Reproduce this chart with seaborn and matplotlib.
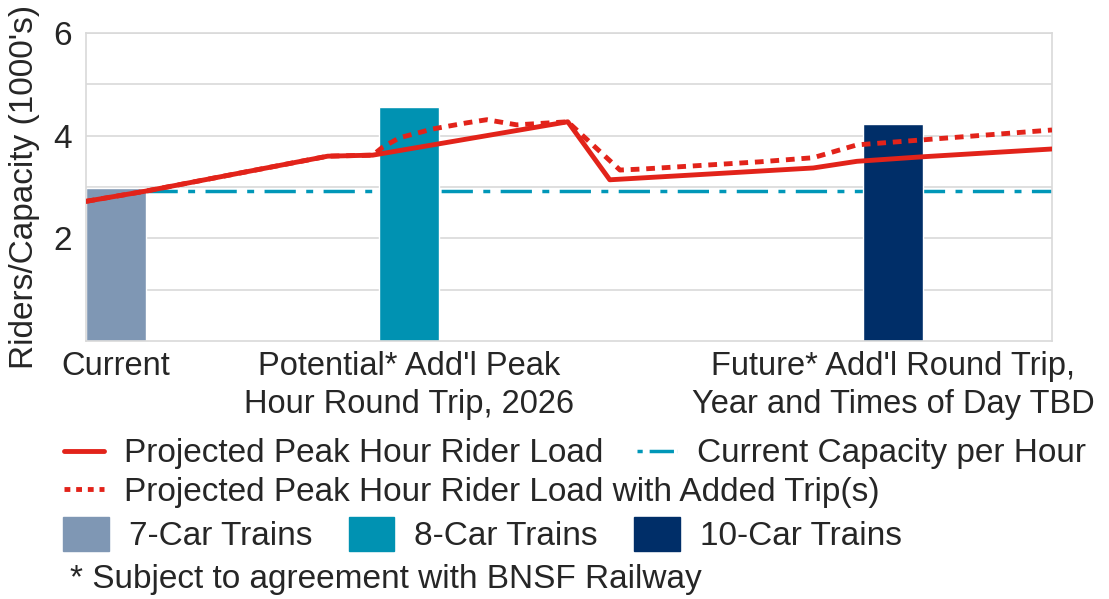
import numpy as np
import pandas as pd
import matplotlib
matplotlib.use("Agg")
import matplotlib.pyplot as plt
from matplotlib.lines import Line2D
from matplotlib.patches import Patch
import seaborn as sns

# x positions in arbitrary timeline units
load_x = [0.0, 1.0, 4.03, 4.78, 8.03, 8.73, 12.12, 12.85, 13.97, 16.1]
load_y = [2.72, 2.92, 3.60, 3.62, 4.27, 3.14, 3.37, 3.50, 3.59, 3.74]

added_x = [0.0, 1.0, 4.03, 4.78, 4.95, 5.23, 5.78, 6.35, 6.68, 7.18, 8.03,
           8.9, 9.28, 11.23, 12.12, 12.85, 13.97, 16.1]
added_y = [2.72, 2.92, 3.60, 3.62, 3.78, 3.96, 4.13, 4.25, 4.31, 4.21, 4.27,
           3.33, 3.35, 3.49, 3.57, 3.82, 3.92, 4.11]

capacity_x = [1.0, 16.1]
capacity_y = [2.92, 2.92]

bar_x = [0.5, 5.39, 13.45]
bar_h = [2.98, 4.56, 4.23]
bar_names = ["7-Car Trains", "8-Car Trains", "10-Car Trains"]
bar_colors = ["#7F97B4", "#0092B2", "#002E68"]

tick_labels = ["Current", "Potential* Add'l Peak\nHour Round Trip, 2026",
               "Future* Add'l Round Trip,\nYear and Times of Day TBD"]

red = "#E2231A"
teal = "#0097B8"

sns.set_theme(style="white")
plt.rcParams["font.family"] = ["Liberation Sans", "DejaVu Sans"]

fig = plt.figure(figsize=(11.09, 5.99), dpi=100)
ax = fig.add_axes([0.0775, 0.4307, 0.8711, 0.5143])

# capacity line sits behind the bars
sns.lineplot(x=capacity_x, y=capacity_y, ax=ax, color=teal, lw=2.5,
             linestyle=(0, (9, 3, 2, 3)), zorder=1)
ax.bar(bar_x, bar_h, width=1.0, color=bar_colors, zorder=2)
sns.lineplot(x=load_x, y=load_y, ax=ax, color=red, lw=3.5, sort=False, zorder=4)
sns.lineplot(x=added_x, y=added_y, ax=ax, color=red, lw=3.5, sort=False,
             linestyle=(0, (1.8, 1.4)), zorder=3)

ax.set_xlim(0, 16.1)
ax.set_ylim(0, 6)
ax.set_yticks([1, 2, 3, 4, 5, 6])
ax.set_yticklabels(["", "2", "", "4", "", "6"])
ax.grid(axis="y", color="#D9D9D9", lw=1.2)
ax.set_axisbelow(True)
for s in ax.spines.values():
    s.set_color("#D9D9D9")
    s.set_linewidth(1.2)
ax.tick_params(axis="y", length=0, pad=10, labelsize=24)
ax.set_xticks(bar_x)
ax.set_xticklabels(tick_labels, fontsize=23.5, linespacing=1.3)
ax.tick_params(axis="x", length=0, pad=7)
ax.set_ylabel("Riders/Capacity (1000's)", fontsize=24, labelpad=10)
ax.set_xlabel("")

h_load = Line2D([], [], color=red, lw=3.5)
h_cap = Line2D([], [], color=teal, lw=2.5, linestyle=(0, (1.5, 2, 7, 1)))
h_added = Line2D([], [], color=red, lw=3.5, linestyle=(0, (1.2, 1.2)))
h_bars = [Patch(color=c) for c in bar_colors]

leg_kw = dict(frameon=False, borderpad=0, borderaxespad=0, fontsize=24,
              handletextpad=0.6, loc="upper left")
l1 = fig.legend([h_load, h_cap],
                ["Projected Peak Hour Rider Load", "Current Capacity per Hour"],
                ncol=2, handlelength=1.2, columnspacing=1.0,
                bbox_to_anchor=(0.058, 0.268), **leg_kw)
l2 = fig.legend([h_added], ["Projected Peak Hour Rider Load with Added Trip(s)"],
                handlelength=1.2, bbox_to_anchor=(0.058, 0.204), **leg_kw)
l3 = fig.legend(h_bars, bar_names, ncol=3, handlelength=1.36, handleheight=1.2,
                columnspacing=1.1, bbox_to_anchor=(0.057, 0.137), **leg_kw)

fig.text(0.063, 0.032, "* Subject to agreement with BNSF Railway",
         fontsize=24, va="center", ha="left")

fig.savefig("out.png", dpi=100)
